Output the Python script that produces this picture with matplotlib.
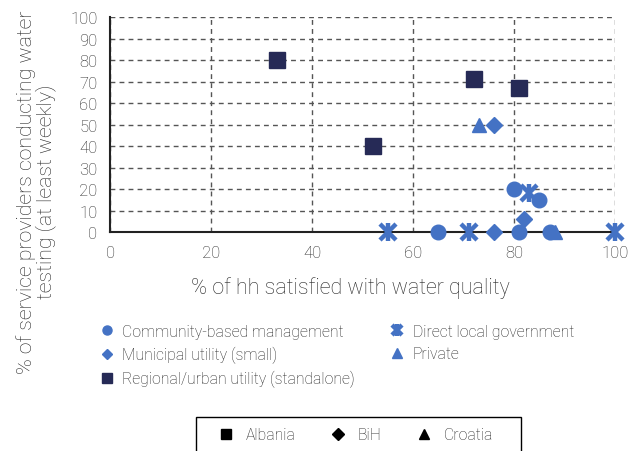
import matplotlib.pyplot as plt
from matplotlib.lines import Line2D
from matplotlib.patches import Rectangle
from matplotlib.legend_handler import HandlerTuple

BLUE = "#4472C4"
NAVY = "#262A56"
INK = "#262626"

# satisfaction (%) vs share testing at least weekly (%), per provider type
community_x = [80, 85, 65, 81, 87]
community_y = [20, 15, 0, 0, 0]
direct_x = [55, 71, 83, 100]
direct_y = [0, 0, 18, 0]
municipal_x = [76, 82, 76]
municipal_y = [50, 6, 0]
private_x = [73, 88]
private_y = [50, 0]
regional_x = [33, 52, 72, 81]
regional_y = [80, 40, 71, 67]

countries = ["Albania", "BiH", "Croatia"]

plt.rcParams["font.family"] = ["Roboto", "DejaVu Sans"]
plt.rcParams["font.weight"] = "light"
plt.rcParams["axes.labelweight"] = "light"

fig = plt.figure(figsize=(6.29, 4.52), dpi=100)
ax = fig.add_axes([0.175, 0.4845, 0.803, 0.4755])

kw = dict(linestyle="none", clip_on=False, zorder=3)
h1, = ax.plot(community_x, community_y, marker="o", color=BLUE, markersize=10.5, **kw)
# asterisk: an X with a vertical stroke on top
h2a, = ax.plot(direct_x, direct_y, marker="x", color=BLUE, markersize=11,
               markeredgewidth=3.2, **kw)
h2b, = ax.plot(direct_x, direct_y, marker="|", color=BLUE, markersize=13,
               markeredgewidth=3.2, **kw)
h3, = ax.plot(municipal_x, municipal_y, marker="D", color=BLUE, markersize=8.5, **kw)
h4, = ax.plot(private_x, private_y, marker="^", color=BLUE, markersize=10.5, **kw)
h5, = ax.plot(regional_x, regional_y, marker="s", color=NAVY, markersize=11.5, **kw)

ax.set_xlim(0, 100)
ax.set_ylim(0, 100)
ax.set_xticks(range(0, 101, 20))
ax.set_yticks(range(0, 101, 10))
ax.grid(True, linestyle=(0, (3.5, 3)), color="#555555", linewidth=1)
ax.set_axisbelow(True)
for s in ["top", "right"]:
    ax.spines[s].set_visible(False)
for s in ["left", "bottom"]:
    ax.spines[s].set_linewidth(1.5)
    ax.spines[s].set_color("#222222")
    ax.spines[s].set_zorder(2)
ax.tick_params(length=0, labelsize=12, labelcolor=INK, pad=9)
ax.set_xlabel("% of hh satisfied with water quality", fontsize=15.5, color=INK)
ax.xaxis.set_label_coords(0.475, -0.205)

fig.text(0.057, 0.575, "% of service providers conducting water\ntesting (at least weekly)",
         rotation=90, ha="center", va="center", fontsize=15.3, color=INK,
         multialignment="center", linespacing=0.95)

leg1 = fig.legend([h1, h3, h5, (h2a, h2b), h4],
                  ["Community-based management", "Municipal utility (small)",
                   "Regional/urban utility (standalone)",
                   "Direct local government", "Private"],
                  handler_map={tuple: HandlerTuple(ndivide=1, pad=0)},
                  ncol=2, loc="upper left", bbox_to_anchor=(0.147, 0.295),
                  frameon=False, fontsize=11.3, labelcolor=INK, markerscale=0.62,
                  handlelength=1.0, handletextpad=0.5, columnspacing=2.2,
                  labelspacing=0.45, borderaxespad=0)

# country key: boxed, running off the bottom edge
fig.patches.append(Rectangle((196 / 629, -0.05), 325 / 629, 0.05 + 34 / 452,
                             transform=fig.transFigure, facecolor="white",
                             edgecolor="black", linewidth=1.0))
chandles = [Line2D([], [], linestyle="none", marker=m, color="black", markersize=ms)
            for m, ms in zip(["s", "D", "^"], [7, 6, 7])]
leg2 = fig.legend(chandles, countries, ncol=3, loc="center left",
                  bbox_to_anchor=(218 / 629, 1 - 436 / 452), fontsize=11.3,
                  labelcolor=INK, frameon=False,
                  handlelength=1.0, handletextpad=0.76, columnspacing=2.2,
                  borderpad=0, borderaxespad=0)

fig.savefig("out.png", dpi=100)
